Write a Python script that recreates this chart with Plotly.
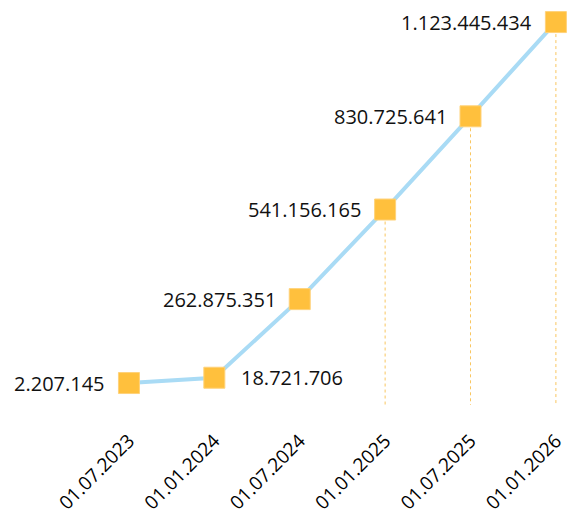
import plotly.graph_objects as go

dates = ["01.07.2023", "01.01.2024", "01.07.2024", "01.01.2025", "01.07.2025", "01.01.2026"]
values = [2207145, 18721706, 262875351, 541156165, 830725641, 1123445434]
labels = ["2.207.145", "18.721.706", "262.875.351", "541.156.165", "830.725.641", "1.123.445.434"]
label_side = ["left", "right", "left", "left", "left", "left"]
drop_lines = [3, 4, 5]

Y_MIN = -66e6
Y_MAX = 1192e6
LINE_C = "#A9DBF5"
MARK_C = "#FFC03D"
FONT = "Open Sans"

fig = go.Figure()
for i in drop_lines:
    fig.add_trace(go.Scatter(x=[dates[i], dates[i]], y=[values[i], Y_MIN], mode="lines",
                             line=dict(color="#F9C660", width=1, dash="dot"),
                             hoverinfo="skip", showlegend=False))
fig.add_trace(go.Scatter(
    x=dates, y=values, mode="lines+markers",
    line=dict(color=LINE_C, width=4),
    marker=dict(symbol="square", size=21, color=MARK_C, line=dict(color="#FFD27A", width=1)),
    showlegend=False, cliponaxis=False))

for d, v, t, s in zip(dates, values, labels, label_side):
    fig.add_annotation(x=d, y=v, text=t, showarrow=False,
                       xanchor="right" if s == "left" else "left",
                       xshift=-22 if s == "left" else 25,
                       font=dict(family=FONT, size=20, color="#111111"))

fig.update_layout(
    width=567, height=516,
    margin=dict(l=0, r=0, t=0, b=111),
    paper_bgcolor="white", plot_bgcolor="white",
    xaxis=dict(type="category", categoryorder="array", categoryarray=dates,
               range=[-1.51, 5.13], showgrid=False, zeroline=False,
               showline=False, ticks="", tickangle=-45, ticklabelstandoff=20,
               tickfont=dict(family=FONT, size=19, color="#000000")),
    yaxis=dict(range=[Y_MIN, Y_MAX], visible=False, showgrid=False, zeroline=False),
)
fig.write_html("out.html")
